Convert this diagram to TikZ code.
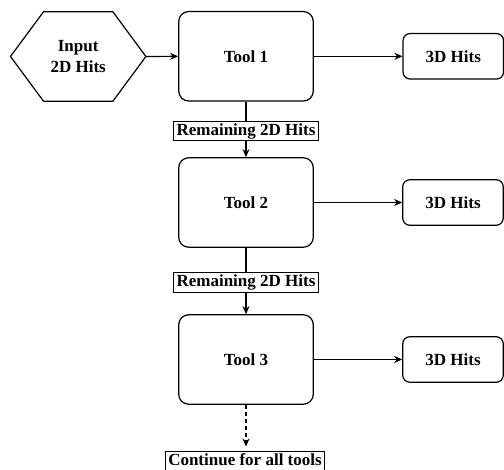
\documentclass[tikz,border=0pt]{standalone}
\usepackage{fontspec}
\setmainfont{Liberation Serif}
\usetikzlibrary{arrows.meta}
\begin{document}
\begin{tikzpicture}[x=1pt,y=-1pt,
  every node/.style={font=\fontsize{17}{21}\selectfont\bfseries},
  tool/.style={draw,line width=1.2pt,rounded corners=10pt,minimum width=134.6pt,minimum height=89.5pt,inner sep=0pt},
  hits/.style={draw,line width=1.2pt,rounded corners=7pt,minimum width=100.5pt,minimum height=45.5pt,inner sep=0pt},
  lab/.style={draw,line width=0.9pt,fill=white,inner xsep=3pt,inner ysep=1.5pt,text height=12.5pt,text depth=4pt},
  arr/.style={line width=1.2pt,-{Stealth[length=8pt,width=7pt]}},
  plain/.style={line width=1.2pt}]
\useasboundingbox (0,0) rectangle (504,470);
% hexagon input
\node[align=center,minimum width=135pt,minimum height=89pt,inner sep=0pt] (in) at (78.2,56.5) {Input\\2D Hits};
\draw[line width=1.2pt] (in.west) -- ([xshift=33pt]in.north west) -- ([xshift=-33pt]in.north east) -- (in.east) -- ([xshift=-33pt]in.south east) -- ([xshift=33pt]in.south west) -- cycle;
% tools
\node[tool] (t1) at (246,56.3) {Tool 1};
\node[tool] (t2) at (246,202.5) {Tool 2};
\node[tool] (t3) at (246,359.5) {Tool 3};
% 3D hits
\node[hits] (h1) at (453.3,56.3) {3D Hits};
\node[hits] (h2) at (453,202.5) {3D Hits};
\node[hits] (h3) at (453,359.5) {3D Hits};
% continue
\node[lab,anchor=north] (c) at (245,451.5) {Continue for all tools};
% edges
\draw[arr] (in.east) -- (t1.west);
\draw[arr] (t1.east) -- (h1.west);
\draw[arr] (t2.east) -- (h2.west);
\draw[arr] (t3.east) -- (h3.west);
\draw[arr] (t1.south) -- node[lab,pos=0.53] (l1) {Remaining 2D Hits} (t2.north);
\draw[arr] (t2.south) -- node[lab,pos=0.52] (l2) {Remaining 2D Hits} (t3.north);
\draw[arr,dashed,dash pattern=on 4pt off 3pt,shorten >=5pt] (t3.south) -- (t3.south |- c.north);
\end{tikzpicture}
\end{document}
